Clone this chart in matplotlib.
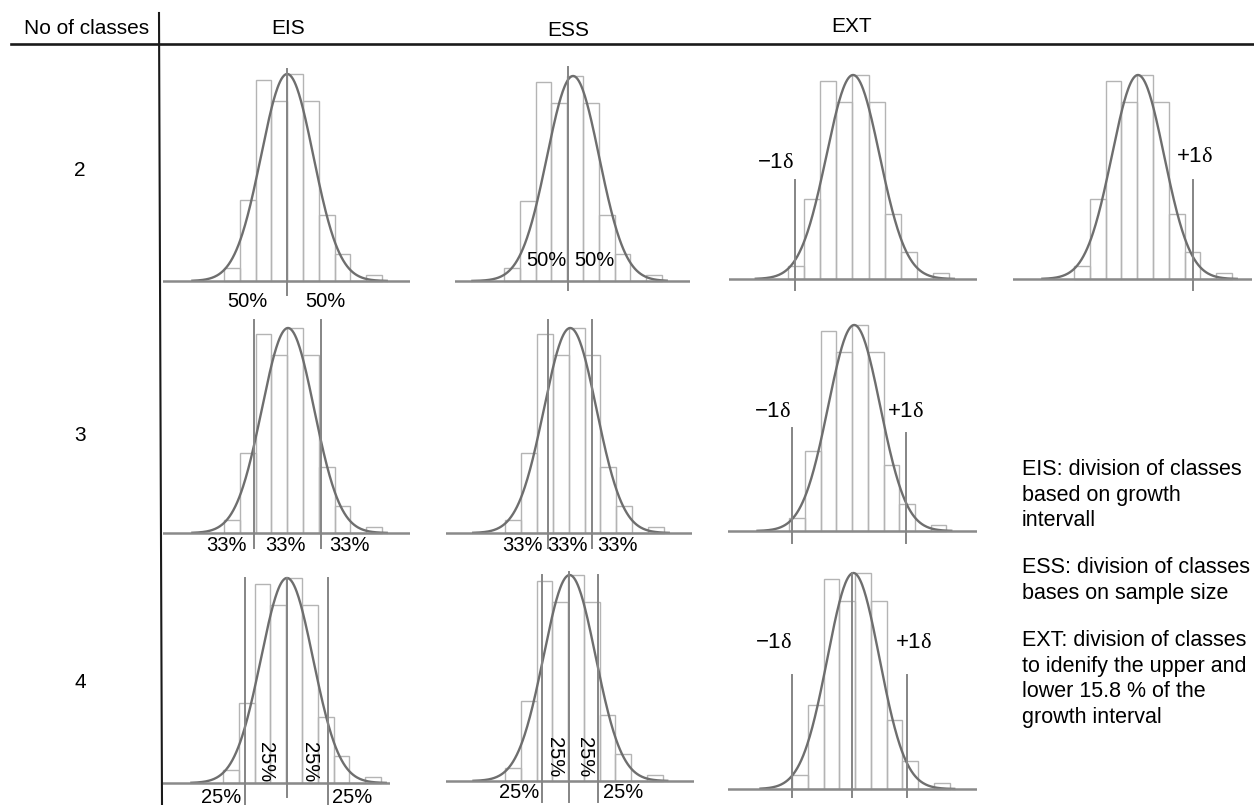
import numpy as np
from matplotlib import pyplot as plt

plt.rcParams['font.family'] = ['Liberation Sans', 'DejaVu Sans']
plt.rcParams['font.size'] = 15
plt.rcParams['mathtext.fontset'] = 'custom'
plt.rcParams['mathtext.rm'] = 'Liberation Serif'
plt.rcParams['mathtext.it'] = 'Liberation Serif'

# data
bin_heights = [0.065, 0.39, 0.97, 0.87, 1.0, 0.87, 0.32, 0.13, 0.0, 0.03]
sigma = 1.65
col_titles = ['EIS', 'ESS', 'EXT']
row_titles = ['2', '3', '4']
curve_means = [4.0, 4.37, 4.04, 4.05,
               4.05, 4.1, 4.14,
               4.05, 4.1, 3.9]
notes = [['EIS: division of classes', 'based on growth', 'intervall'],
         ['ESS: division of classes', 'bases on sample size'],
         ['EXT: division of classes', 'to idenify the upper and',
          'lower 15.8 % of the', 'growth interval']]
minus_d = '\u22121$\\mathrm{\\delta}$'
plus_d = '+1$\\mathrm{\\delta}$'

# class boundaries (bin units): (x, top, bottom)
cuts = [
    [(4.0, 1.024, -0.068)],
    [(4.05, 1.044, -0.044)],
    [(0.43, 0.485, -0.054)],
    [(7.53, 0.485, -0.054)],
    [(1.87, 1.04, -0.073), (6.16, 1.04, -0.073)],
    [(2.68, 1.04, -0.073), (5.47, 1.04, -0.073)],
    [(0.22, 0.50, -0.058), (7.46, 0.476, -0.058)],
    [(1.39, 1.0, -0.107), (4.05, 1.0, -0.068), (6.62, 1.0, -0.107)],
    [(2.35, 1.0, -0.10), (4.05, 1.015, -0.10), (5.9, 1.0, -0.10)],
    [(0.0, 0.53, -0.037), (3.84, 1.0, -0.037), (7.27, 0.53, -0.037)],
]
# labels: (x, y, text, rotation)
labels = [
    [(1.5, -0.10, '50%', 0), (6.4, -0.10, '50%', 0)],
    [(2.7, 0.10, '50%', 0), (5.75, 0.10, '50%', 0)],
    [(-0.8, 0.57, minus_d, 0)],
    [(7.66, 0.60, plus_d, 0)],
    [(0.13, -0.059, '33%', 0), (3.87, -0.059, '33%', 0), (7.97, -0.059, '33%', 0)],
    [(1.1, -0.059, '33%', 0), (3.9, -0.059, '33%', 0), (7.1, -0.059, '33%', 0)],
    [(-1.07, 0.58, minus_d, 0), (7.43, 0.58, plus_d, 0)],
    [(-0.13, -0.073, '25%', 0), (8.2, -0.073, '25%', 0),
     (2.66, 0.10, '25%', -90), (5.5, 0.10, '25%', -90)],
    [(0.9, -0.058, '25%', 0), (7.5, -0.058, '25%', 0),
     (3.15, 0.117, '25%', -90), (5.07, 0.117, '25%', -90)],
    [(-1.2, 0.676, minus_d, 0), (7.7, 0.676, plus_d, 0)],
]

# panel layout in pixels: bar left, bin width, baseline y, peak y, baseline x range
layout = [
    (224, 15.8, 281, 74, 163, 410), (504, 15.8, 281, 76, 455, 690),
    (788, 16.1, 279, 75, 729, 977), (1074, 15.8, 279, 75, 1013, 1252),
    (224, 15.8, 533, 328, 163, 410), (505, 15.9, 533, 328, 446, 692),
    (789, 15.75, 531, 325, 728, 977),
    (223, 15.8, 783, 578, 163, 390), (505, 15.75, 781, 575, 446, 694),
    (792, 15.75, 789, 573, 728, 977),
]

W, H = 1254, 805
fig = plt.figure(figsize=(W / 100, H / 100), dpi=100)

bg = fig.add_axes([0, 0, 1, 1], zorder=0)
bg.set_xlim(0, W)
bg.set_ylim(H, 0)
bg.axis('off')
bg.plot([11, W], [44, 44], color='#1a1a1a', lw=1.9)
bg.plot([159, 162], [13, H], color='#1a1a1a', lw=1.5)
bg.text(87, 28, 'No of classes', ha='center', va='center')
for t, x, y in zip(col_titles, [288, 568, 852], [28, 31, 26]):
    bg.text(x, y, t, ha='center', va='center')
for t, y in zip(row_titles, [170, 435, 682]):
    bg.text(80, y, t, ha='center', va='center')
for block, y0 in zip(notes, [475, 573, 646]):
    for i, line in enumerate(block):
        bg.text(1022, y0 + 25.5 * i, line, ha='left', va='baseline', fontsize=15.5)

edges = np.arange(len(bin_heights))
xs = np.linspace(-2.0, 10.3, 300)

for (bl, bw, by, py, x0, x1), mu, cut, lab in zip(layout, curve_means, cuts, labels):
    hp = by - py
    top, bot = py - 12, by + 25
    ax = fig.add_axes([x0 / W, 1 - bot / H, (x1 - x0) / W, (bot - top) / H], zorder=1)
    ax.set_xlim((x0 - bl) / bw, (x1 - bl) / bw)
    ax.set_ylim(-(bot - by) / hp, (by - top) / hp)
    ax.axis('off')
    ax.patch.set_alpha(0)

    ax.bar(edges, bin_heights, width=1, align='edge', fill=False,
           edgecolor='#b4b4b4', linewidth=1.0)
    ax.plot(xs, np.exp(-0.5 * ((xs - mu) / sigma) ** 2), color='#6e6e6e', lw=1.7)
    ax.axhline(0, color='#8a8a8a', lw=1.8)
    for cx, ct, cb in cut:
        ax.plot([cx, cx], [cb, ct], color='#858585', lw=1.4, clip_on=False)
    for lx, ly, lt, rot in lab:
        fs = 16 if '$' in lt else 14.5
        ax.text(lx, ly, lt, ha='center', va='center', rotation=rot,
                fontsize=fs, clip_on=False)

fig.savefig('out.png', dpi=100)
